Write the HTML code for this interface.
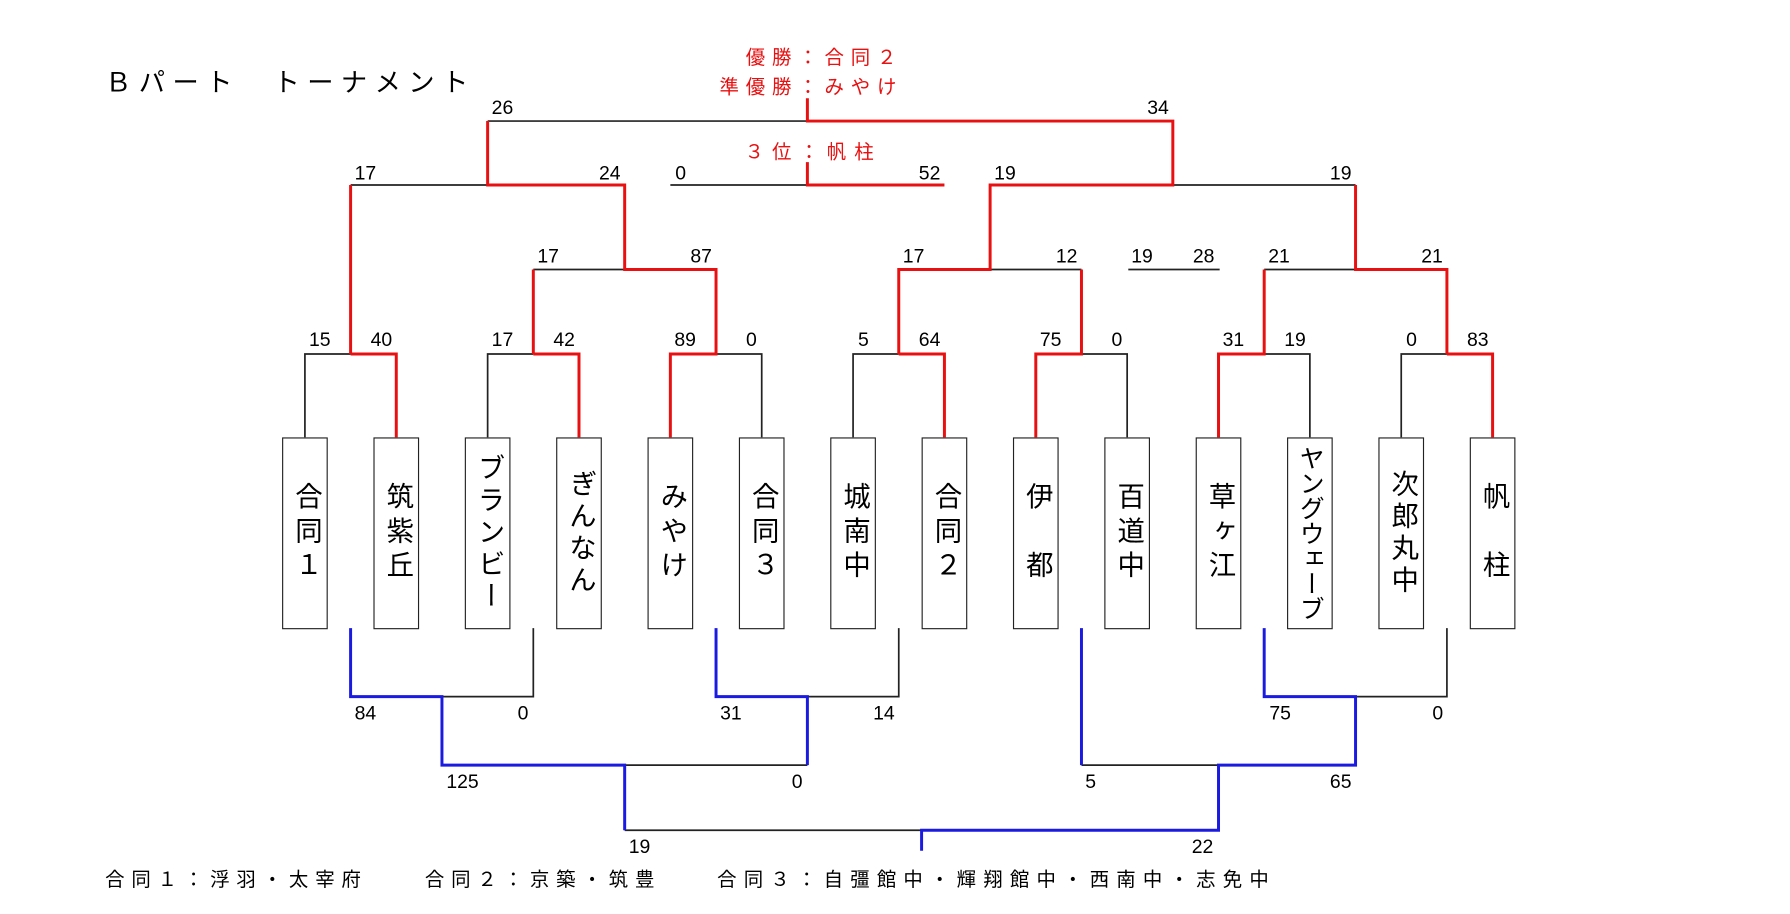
<!DOCTYPE html>
<html><head><meta charset="utf-8"><style>
html,body{margin:0;padding:0;background:#fff;width:1790px;height:914px;overflow:hidden}
#c{position:absolute;left:0;top:0;width:1560px;height:797px;transform:scale(1.1420);transform-origin:0 0;font-family:"Liberation Sans","Noto Sans CJK JP",sans-serif}
.b{position:absolute;top:383px;width:38px;height:166px;border:1.5px solid #222;background:#fff;display:flex;align-items:center;justify-content:center}
.b span{writing-mode:vertical-rl;font-size:24px;color:#000;letter-spacing:6px;line-height:1}
.t{position:absolute;white-space:nowrap}
</style></head><body><div id="c">
<svg width="1560" height="797" style="position:absolute;left:0;top:0" font-family="Liberation Sans, sans-serif">
<g stroke="#222" stroke-width="1.5" fill="none">
<path d="M267 383V310H307"/><path d="M427 383V310H467"/><path d="M627 310H667V383"/><path d="M747 383V310H787"/><path d="M947 310H987V383"/><path d="M1107 310H1147V383"/><path d="M1227 383V310H1267"/>
<path d="M467 236H547"/><path d="M867 236H947"/><path d="M988 236H1068"/><path d="M1107 236H1187"/>
<path d="M307 162H427"/><path d="M587 162H707"/><path d="M1027 162H1187"/><path d="M427 106H707"/>
<path d="M387 610H467V550"/><path d="M707 610H787V550"/><path d="M1187 610H1267V550"/>
<path d="M547 670H707"/><path d="M947 670H1067"/><path d="M547 727H807"/>
</g>
<g stroke="#e81010" stroke-width="2.6" fill="none">
<path d="M307 310H347V383"/><path d="M307 310V162"/>
<path d="M467 310H507V383"/><path d="M467 310V236"/>
<path d="M587 383V310H627V236H547V162H427V106"/>
<path d="M787 310H827V383"/><path d="M787 310V236H867V162H1027V106H707V86"/>
<path d="M907 383V310H947V236"/>
<path d="M1067 383V310H1107V236"/>
<path d="M1267 310H1307V383"/><path d="M1267 310V236H1187V162"/>
<path d="M707 142V162H827"/>
</g>
<g stroke="#1a1ae0" stroke-width="2.6" fill="none">
<path d="M307 550V610H387V670H547V727"/>
<path d="M627 550V610H707V670"/>
<path d="M947 550V670"/>
<path d="M1107 550V610H1187V670H1067V727H807V745"/>
</g>
<g font-size="17" fill="#000" text-anchor="middle">
<text x="440" y="100">26</text><text x="1014" y="100">34</text>
<text x="320" y="157">17</text><text x="534" y="157">24</text><text x="596" y="157">0</text><text x="814" y="157">52</text><text x="880" y="157">19</text><text x="1174" y="157">19</text>
<text x="480" y="230">17</text><text x="614" y="230">87</text><text x="800" y="230">17</text><text x="934" y="230">12</text><text x="1000" y="230">19</text><text x="1054" y="230">28</text><text x="1120" y="230">21</text><text x="1254" y="230">21</text>
<text x="280" y="303">15</text><text x="334" y="303">40</text><text x="440" y="303">17</text><text x="494" y="303">42</text><text x="600" y="303">89</text><text x="658" y="303">0</text><text x="756" y="303">5</text><text x="814" y="303">64</text><text x="920" y="303">75</text><text x="978" y="303">0</text><text x="1080" y="303">31</text><text x="1134" y="303">19</text><text x="1236" y="303">0</text><text x="1294" y="303">83</text>
<text x="320" y="630">84</text><text x="458" y="630">0</text><text x="640" y="630">31</text><text x="774" y="630">14</text><text x="1121" y="630">75</text><text x="1259" y="630">0</text>
<text x="405" y="690">125</text><text x="698" y="690">0</text><text x="955" y="690">5</text><text x="1174" y="690">65</text>
<text x="560" y="747">19</text><text x="1053" y="747">22</text>
</g>
</svg>
<div class="t" style="left:92px;top:53px;font-size:23px;letter-spacing:6.5px">Ｂパート　トーナメント</div>
<div class="t" style="right:769px;top:36px;font-size:17px;letter-spacing:6px;color:#e81010">優勝：合同２</div>
<div class="t" style="right:769px;top:62px;font-size:17px;letter-spacing:6px;color:#e81010">準優勝：みやけ</div>
<div class="t" style="right:788px;top:119px;font-size:17px;letter-spacing:7px;color:#e81010">３位：帆柱</div>
<div class="t" style="left:92px;top:756px;font-size:17px;letter-spacing:6px">合同１：浮羽・太宰府</div>
<div class="t" style="left:372px;top:756px;font-size:17px;letter-spacing:6px">合同２：京築・筑豊</div>
<div class="t" style="left:628px;top:756px;font-size:17px;letter-spacing:6.3px">合同３：自彊館中・輝翔館中・西南中・志免中</div>
<div class="b" style="left:247px"><span>合同１</span></div>
<div class="b" style="left:327px"><span>筑紫丘</span></div>
<div class="b" style="left:407px"><span style="letter-spacing:4px">ブランビー</span></div>
<div class="b" style="left:487px"><span style="letter-spacing:4px">ぎんなん</span></div>
<div class="b" style="left:567px"><span>みやけ</span></div>
<div class="b" style="left:647px"><span>合同３</span></div>
<div class="b" style="left:727px"><span>城南中</span></div>
<div class="b" style="left:807px"><span>合同２</span></div>
<div class="b" style="left:887px"><span>伊　都</span></div>
<div class="b" style="left:967px"><span>百道中</span></div>
<div class="b" style="left:1047px"><span>草ヶ江</span></div>
<div class="b" style="left:1127px"><span style="letter-spacing:0;font-size:22px">ヤングウェーブ</span></div>
<div class="b" style="left:1207px"><span style="letter-spacing:4px">次郎丸中</span></div>
<div class="b" style="left:1287px"><span>帆　柱</span></div>
</div></body></html>
